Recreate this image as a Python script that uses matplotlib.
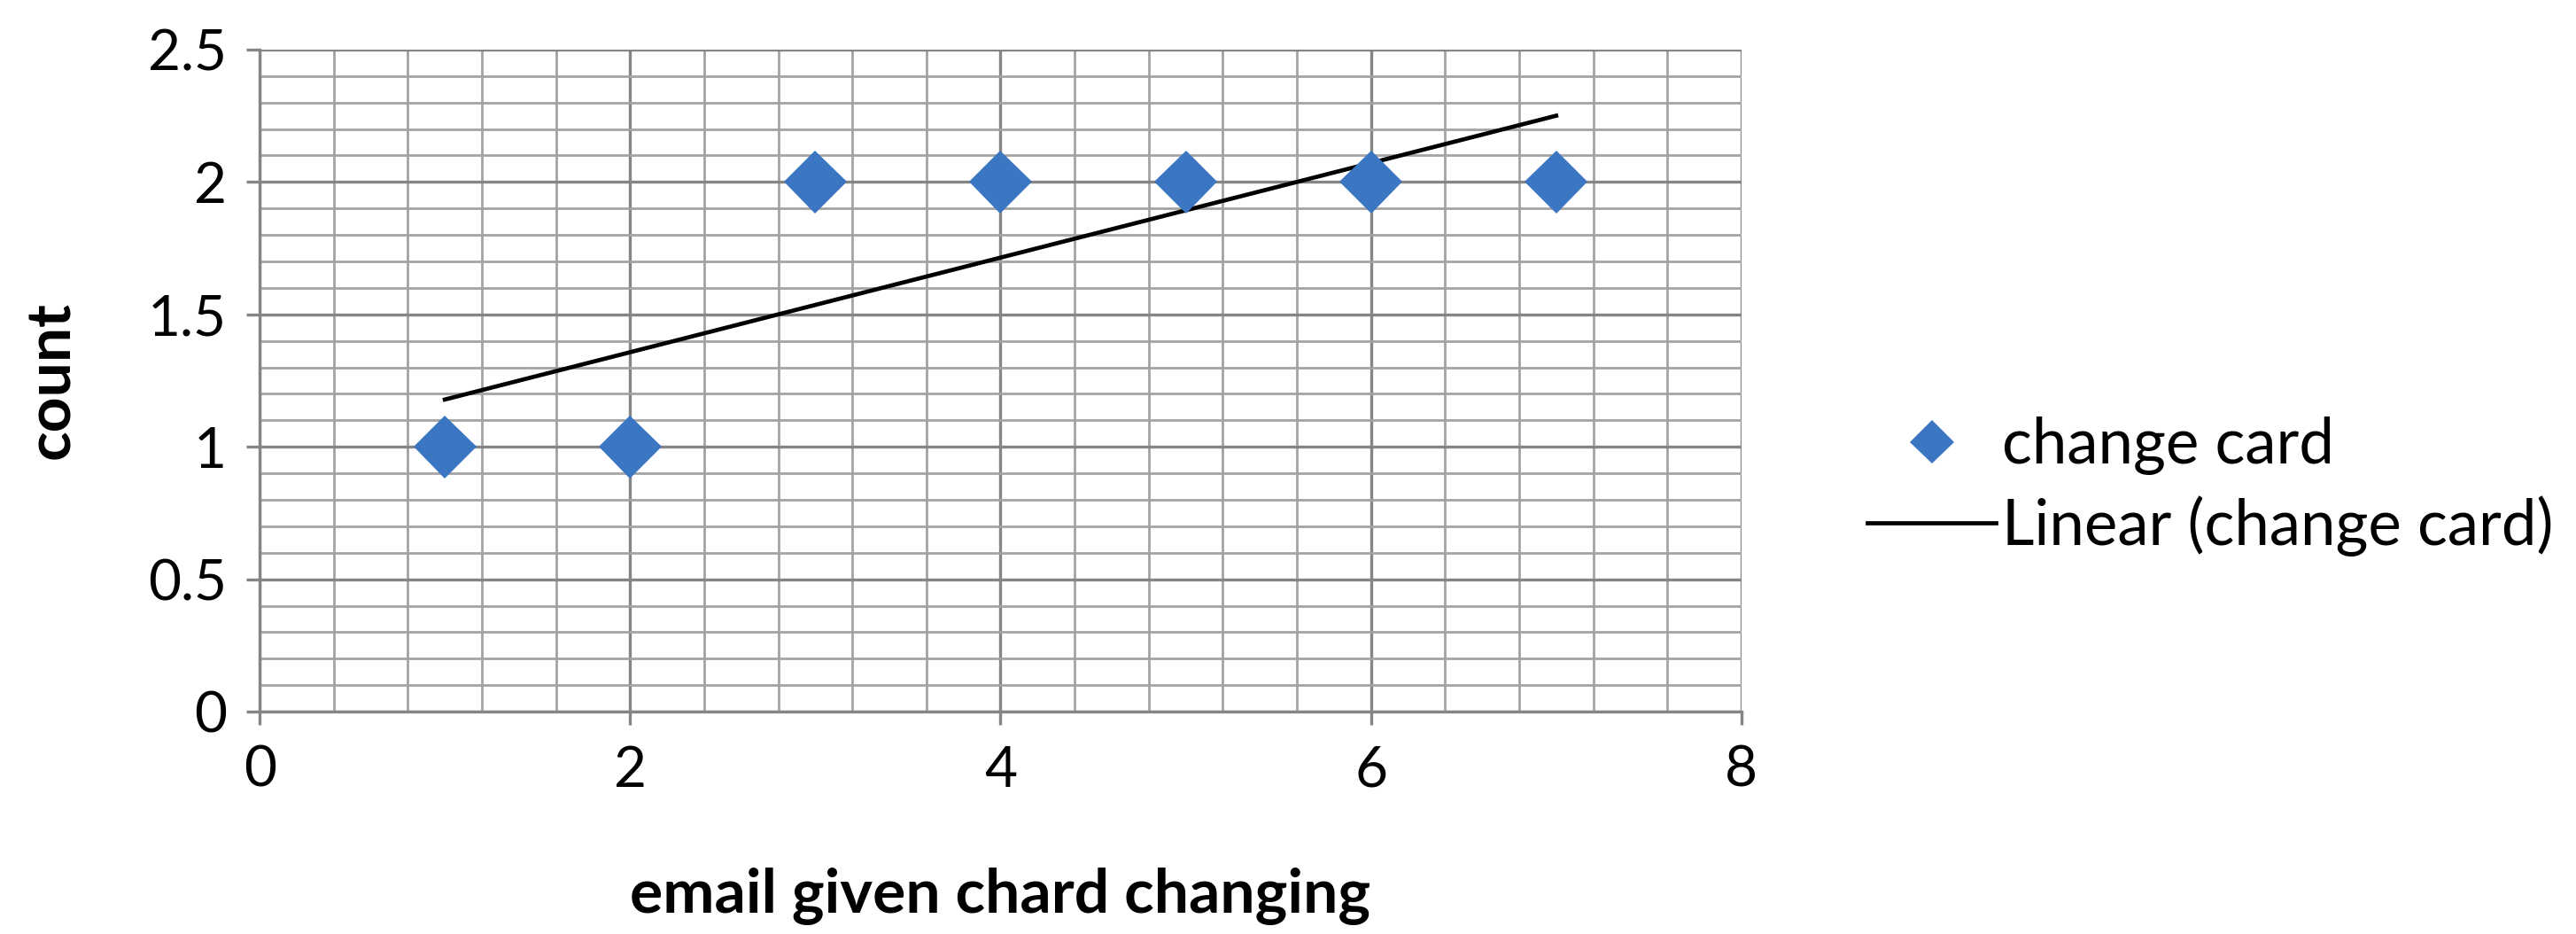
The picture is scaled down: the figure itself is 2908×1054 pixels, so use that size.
import numpy as np
import matplotlib
matplotlib.use("Agg")
import matplotlib.pyplot as plt
import matplotlib.patheffects as pe
from matplotlib.ticker import MultipleLocator

plt.rcParams['font.family'] = ['Lato', 'DejaVu Sans']

x_vals = [1, 2, 3, 4, 5, 6, 7]
counts = [1, 1, 2, 2, 2, 2, 2]
serie = "change card"
x_label = "email given chard changing"
y_label = "count"

azul = '#3b76c2'
gris_mayor = '#858585'
gris_menor = '#a3a3a3'

fig = plt.figure(figsize=(29.08, 10.54), dpi=100)
ax = fig.add_axes([0.1008, 0.238, 0.5752, 0.709])

# trendline por minimos cuadrados
pendiente, corte = np.polyfit(x_vals, counts, 1)
xt = np.array([min(x_vals), max(x_vals)])
ax.plot(xt, pendiente * xt + corte, color='black', lw=3.4, zorder=3,
        label="Linear (change card)")

ax.plot(x_vals, counts, linestyle='none', marker='D', markersize=36,
        color=azul, markeredgewidth=0, zorder=4, label=serie,
        path_effects=[pe.SimpleLineShadow(offset=(1.5, -3), alpha=0.22, shadow_color='#555555'),
                      pe.Normal()])

ax.set_xlim(0, 8)
ax.set_ylim(0, 2.5)
ax.xaxis.set_major_locator(MultipleLocator(2))
ax.xaxis.set_minor_locator(MultipleLocator(0.4))
ax.yaxis.set_minor_locator(MultipleLocator(0.1))
ax.set_yticks([0, 0.5, 1, 1.5, 2, 2.5])
ax.set_yticklabels(['0', '0.5', '1', '1.5', '2', '2.5'])

ax.grid(which='major', color=gris_mayor, lw=2.4, zorder=0)
ax.grid(which='minor', color=gris_menor, lw=2.0, zorder=0)
ax.set_axisbelow(True)

for lado in ['top', 'right']:
    ax.spines[lado].set_visible(False)
for lado in ['left', 'bottom']:
    ax.spines[lado].set_color(gris_mayor)
    ax.spines[lado].set_linewidth(2.4)

ax.tick_params(which='major', direction='out', length=11, width=2.4, color=gris_mayor,
               labelsize=46, pad=16)
ax.tick_params(which='minor', length=0)

ax.set_xlabel(x_label, fontsize=50, fontweight='bold', labelpad=58)
ax.set_ylabel(y_label, fontsize=50, fontweight='bold', labelpad=55)

leg = ax.legend(handles=ax.get_lines()[::-1], loc='center left',
                bbox_to_anchor=(1.047, 0.34), frameon=False, fontsize=51,
                handlelength=2.05, handletextpad=0.1, labelspacing=0.32,
                markerscale=0.7)

fig.savefig("out.png", dpi=100, facecolor='white')
